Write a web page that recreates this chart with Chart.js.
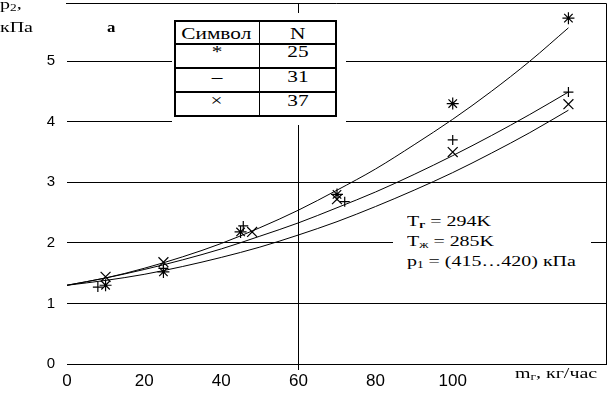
<!DOCTYPE html>
<html><head><meta charset="utf-8">
<script src="https://cdn.jsdelivr.net/npm/chart.js@4"></script>
<style>
html,body{margin:0;padding:0;background:#fff;}
#wrap{position:relative;width:607px;height:396px;overflow:hidden;background:#fff;}
canvas{position:absolute;left:0;top:0;}
.t{position:absolute;font-family:"Liberation Serif","Times New Roman",serif;color:#000;white-space:nowrap;line-height:15px;font-size:15px;}
.s{display:inline-block;transform:scaleX(1.33);transform-origin:0 0;}
.c{text-align:center;}
.c .s{transform-origin:50% 0;}
.f16{font-size:16px;line-height:16px;}
sub{font-size:10px;vertical-align:-2px;line-height:0;}
.box{position:absolute;background:#fff;}
.ln{position:absolute;background:#000;}
</style>
</head><body>
<div id="wrap">
<canvas id="c" width="607" height="396"></canvas>

<div class="t" style="left:0;top:-3px;"><span class="s">p<sub>2</sub>,</span></div>
<div class="t" style="left:0;top:20px;"><span class="s">кПа</span></div>
<div class="t" style="left:107px;top:21px;font-size:14px;line-height:14px;font-weight:bold;"><span class="s" style="transform:scaleX(1.2)">а</span></div>

<div class="box" style="left:172px;top:13px;width:174px;height:112px;"></div>
<div style="position:absolute;left:174px;top:20px;width:163px;height:97px;border:2px solid #000;box-sizing:border-box;"></div>
<div class="ln" style="left:174px;top:43px;width:163px;height:2px;"></div>
<div class="ln" style="left:174px;top:67px;width:163px;height:2px;"></div>
<div class="ln" style="left:174px;top:91px;width:163px;height:2px;"></div>
<div class="ln" style="left:259px;top:20px;width:1px;height:97px;"></div>
<div class="t c f16" style="left:174px;width:85px;top:26px;"><span class="s">Символ</span></div>
<div class="t c f16" style="left:259px;width:78px;top:26px;"><span class="s">N</span></div>
<div class="t c f16" style="left:174px;width:85px;top:44px;"><span class="s">*</span></div>
<div class="t c f16" style="left:259px;width:78px;top:44px;"><span class="s">25</span></div>
<div class="t c f16" style="left:174px;width:85px;top:68.5px;"><span class="s">–</span></div>
<div class="t c f16" style="left:259px;width:78px;top:68.5px;"><span class="s">31</span></div>
<div class="t c f16" style="left:174px;width:85px;top:93px;"><span class="s">×</span></div>
<div class="t c f16" style="left:259px;width:78px;top:93px;"><span class="s">37</span></div>

<div class="box" style="left:393px;top:210px;width:198px;height:66px;"></div>
<div class="t" style="left:407px;top:214px;"><span class="s">T<sub style="font-weight:bold">г</sub> = 294K</span></div>
<div class="t" style="left:407px;top:234px;"><span class="s">T<sub>ж</sub> = 285K</span></div>
<div class="t" style="left:407px;top:254px;"><span class="s">p<sub>1</sub> = (415…420) кПа</span></div>

<div class="t" style="left:515px;top:366px;"><span class="s">m<sub>г</sub>, кг/час</span></div>
</div>

<script>
// Tick values
const xTicks = [0, 20, 40, 60, 80, 100, 120, 140];
const xTickLabelsShown = [0, 20, 40, 60, 80, 100];
const yTicks = [0, 1, 2, 3, 4, 5];

// Fitted curves
const curveX   = [0, 10, 20, 30, 40, 50, 60, 70, 80, 90, 100, 110, 120, 130];
const fitN25   = [1.30, 1.42, 1.58, 1.77, 1.99, 2.25, 2.54, 2.87, 3.22, 3.62, 4.04, 4.50, 5.00, 5.55];
const fitN31   = [1.30, 1.42, 1.56, 1.72, 1.90, 2.11, 2.33, 2.58, 2.84, 3.13, 3.44, 3.77, 4.12, 4.49];
const fitN37   = [1.30, 1.38, 1.48, 1.61, 1.76, 1.93, 2.13, 2.35, 2.60, 2.87, 3.16, 3.48, 3.82, 4.19];

// Measured points
const ptsN25X = [10, 25, 45, 70, 100, 130];
const ptsN25Y = [1.30, 1.52, 2.18, 2.80, 4.30, 5.71];
const ptsN31X = [8, 25, 45.7, 72, 100, 130];
const ptsN31Y = [1.27, 1.58, 2.28, 2.68, 3.70, 4.49];
const ptsN37X = [10, 25, 48, 70, 100, 130];
const ptsN37Y = [1.44, 1.68, 2.18, 2.72, 3.50, 4.29];

const zip = (xs, ys) => xs.map((x, i) => ({x, y: ys[i]}));

const lineDs = (ys) => ({
  data: zip(curveX, ys), showLine: true, borderColor: '#000', borderWidth: 1,
  pointRadius: 0, tension: 0.4, cubicInterpolationMode: 'monotone', fill: false
});
const ptDs = (xs, ys, style, r) => ({
  data: zip(xs, ys), showLine: false, pointStyle: style, pointRadius: r,
  borderColor: '#000', backgroundColor: 'rgba(0,0,0,0)', pointBorderWidth: 1.2
});

const framePlugin = {
  id: 'frame',
  afterDraw(chart) {
    const {ctx, chartArea: {left, right, top, bottom}} = chart;
    ctx.save();
    ctx.strokeStyle = '#000'; ctx.lineWidth = 1;
    const t = Math.floor(top) + 0.5, r = Math.floor(right) - 0.5;
    ctx.beginPath();
    ctx.moveTo(left - 1, t); ctx.lineTo(r, t); ctx.lineTo(r, Math.floor(bottom) + 1);
    ctx.stroke();
    ctx.restore();
  }
};

new Chart(document.getElementById('c'), {
  type: 'scatter',
  data: {
    datasets: [
      lineDs(fitN25), lineDs(fitN31), lineDs(fitN37),
      ptDs(ptsN25X, ptsN25Y, 'star', 6),
      ptDs(ptsN31X, ptsN31Y, 'cross', 5),
      ptDs(ptsN37X, ptsN37Y, 'crossRot', 7)
    ]
  },
  options: {
    responsive: false, animation: false, devicePixelRatio: 1,
    layout: {autoPadding: false, padding: {top: 3, right: 0, left: 0, bottom: 0}},
    plugins: {legend: {display: false}, tooltip: {enabled: false}},
    scales: {
      x: {
        type: 'linear', min: 0, max: 140,
        afterBuildTicks: s => { s.ticks = xTicks.map(v => ({value: v})); },
        afterFit: s => { s.height = 32; s.paddingLeft = 0; s.paddingRight = 0; s.paddingTop = 0; s.paddingBottom = 0; },
        border: {display: false},
        grid: {
          color: c => (c.tick && c.tick.value === 60) ? '#000' : 'rgba(0,0,0,0)',
          lineWidth: 1, drawTicks: true, tickLength: 6
        },
        ticks: {
          callback: v => xTickLabelsShown.includes(v) ? String(v) : '',
          color: '#000', font: {family: 'Liberation Sans, Arial, sans-serif', size: 17},
          padding: 1, maxRotation: 0, autoSkip: false
        }
      },
      y: {
        type: 'linear', min: 0, max: 5.96,
        afterBuildTicks: s => { s.ticks = yTicks.map(v => ({value: v})); },
        afterFit: s => { s.width = 67; s.paddingTop = 0; s.paddingBottom = 0; s.paddingLeft = 0; s.paddingRight = 0; },
        border: {display: false},
        grid: {color: '#000', lineWidth: 1, drawTicks: false},
        ticks: {
          color: '#000', font: {family: 'Liberation Sans, Arial, sans-serif', size: 15},
          padding: 12
        }
      }
    }
  },
  plugins: [framePlugin]
});
</script>
</body></html>
